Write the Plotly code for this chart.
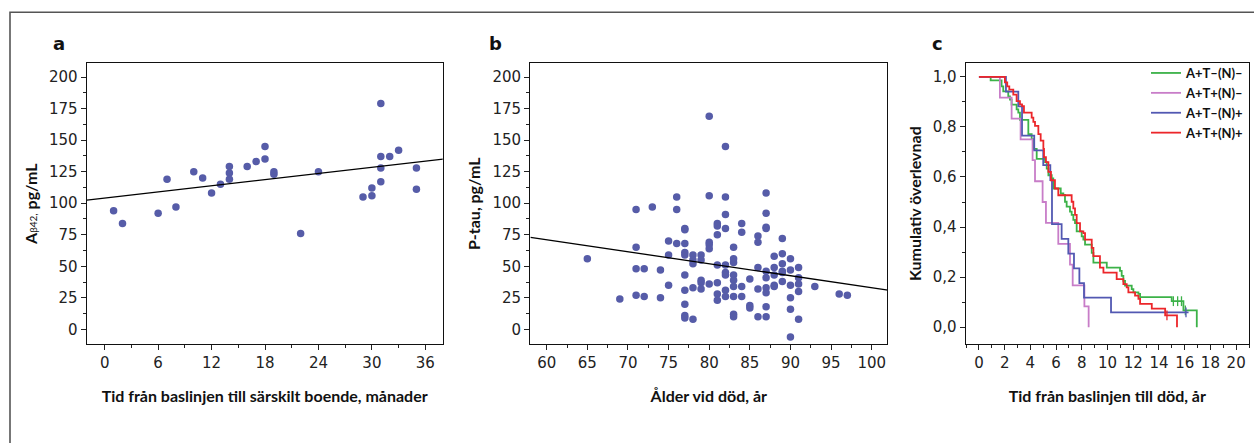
import plotly.graph_objects as go

# ---------------- Panel a data ----------------
a_months = [1, 2, 6, 7, 8, 10, 11, 12, 13, 14, 14, 14, 16, 17, 18, 18, 19, 19,
            22, 24, 29, 30, 30, 31, 31, 31, 31, 32, 33, 35, 35]
a_abeta = [94, 84, 92, 119, 97, 125, 120, 108, 115, 129, 124, 119, 129, 133, 145, 135, 125, 123,
           76, 125, 105, 112, 106, 179, 137, 128, 117, 137, 142, 128, 111]
a_fit_intercept = 104.1
a_fit_slope = 0.813

# ---------------- Panel b data ----------------
b_age = [65, 69, 71, 71, 71, 71, 72, 72, 73, 74, 74, 75, 75, 75, 76, 76, 76,
         77, 77, 77, 77, 77, 77, 77, 77, 77, 77, 78, 78, 78, 78, 78,
         79, 79, 79, 79, 79, 80, 80, 80, 80, 80, 80,
         81, 81, 81, 81, 81, 81, 81, 82, 82, 82, 82, 82, 82, 82, 82, 82,
         83, 83, 83, 83, 83, 83, 83, 83, 83, 84, 84, 84, 84, 85, 85, 85,
         86, 86, 86, 86, 86, 87, 87, 87, 87, 87, 87, 87, 87, 87, 87,
         88, 88, 88, 88, 88, 89, 89, 89, 89, 89, 89, 90, 90, 90, 90, 90, 90,
         91, 91, 91, 91, 91, 93, 96, 97]
b_ptau = [56, 24, 95, 65, 48, 27, 48, 26, 97, 47, 25, 70, 59, 35, 105, 95, 68,
          80, 79, 68, 61, 59, 43, 31, 20, 11, 9, 8, 59, 55, 52, 33,
          59, 55, 39, 37, 32, 169, 106, 69, 67, 64, 36,
          84, 82, 75, 51, 37, 28, 23, 145, 105, 91, 80, 51, 45, 43, 31, 26,
          65, 56, 53, 43, 39, 34, 26, 12, 10, 84, 77, 34, 26, 40, 19, 17,
          74, 69, 49, 32, 10, 108, 92, 81, 80, 46, 41, 33, 29, 18, 10,
          58, 49, 43, 35, 34, 72, 60, 52, 46, 45, 38, 56, 47, 35, 25, 16, -6,
          49, 41, 36, 30, 8, 34, 28, 27]
b_fit_intercept_at60 = 71.0
b_fit_slope = -0.949

# ---------------- Panel c data (Kaplan-Meier steps) ----------------
groups = ["A+T–(N)–", "A+T+(N)–", "A+T–(N)+", "A+T+(N)+"]

km_green_t = [0, 0.91, 1.76, 1.89, 2.28, 2.41, 2.54, 2.93, 3.06, 3.19, 3.84, 4.10, 4.23, 4.49,
              5.14, 5.27, 5.40, 5.66, 5.78, 6.36, 6.56, 6.69, 6.82, 7.08, 7.21, 7.34, 7.47, 7.60,
              7.99, 8.12, 8.25, 8.77, 8.90, 9.94, 10.97, 11.10, 11.23, 11.36, 11.88, 12.01,
              12.40, 12.53, 14.99, 15.90, 16.94]
km_green_s = [1, 0.986, 0.962, 0.942, 0.922, 0.909, 0.889, 0.870, 0.857, 0.828, 0.771, 0.751, 0.712, 0.672,
              0.659, 0.633, 0.607, 0.594, 0.554, 0.534, 0.528, 0.501, 0.482, 0.462, 0.449, 0.429, 0.416, 0.383,
              0.363, 0.350, 0.330, 0.297, 0.258, 0.238, 0.225, 0.205, 0.185, 0.166, 0.152, 0.139,
              0.133, 0.120, 0.104, 0.067, 0.0]
km_green_cens_t = [15.12, 15.45, 15.75, 16.05]
km_green_cens_s = [0.104, 0.104, 0.104, 0.067]

km_pink_t = [0, 1.63, 2.54, 3.24, 4.17, 4.36, 4.95, 5.21, 6.17, 7.08, 7.29, 8.20, 8.53]
km_pink_s = [1, 0.917, 0.833, 0.750, 0.667, 0.583, 0.500, 0.417, 0.333, 0.250, 0.167, 0.083, 0.0]

km_blue_t = [0, 2.10, 3.06, 3.35, 4.30, 5.00, 5.55, 5.68, 6.43, 6.95, 7.39, 7.81, 8.17, 10.27, 16.30]
km_blue_s = [1, 0.941, 0.882, 0.765, 0.706, 0.647, 0.588, 0.412, 0.353, 0.294, 0.235, 0.176, 0.118, 0.059, 0.059]
km_blue_cens_t = [16.1]
km_blue_cens_s = [0.059]

km_red_t = [0, 2.02, 2.20, 2.36, 2.67, 2.93, 3.19, 3.35, 3.50, 4.10, 4.23, 4.36, 4.62, 4.80, 5.01,
            5.06, 5.21, 5.40, 5.60, 5.91, 6.17, 7.21, 7.34, 7.47, 7.60, 7.86, 8.12, 8.25, 8.77,
            8.90, 9.41, 9.68, 10.71, 11.23, 11.49, 11.62, 12.14, 12.40, 12.53, 13.44, 14.48, 15.40]
km_red_s = [1, 0.978, 0.962, 0.949, 0.929, 0.903, 0.890, 0.883, 0.857, 0.837, 0.820, 0.804, 0.771, 0.745, 0.712,
            0.679, 0.659, 0.620, 0.587, 0.554, 0.527, 0.501, 0.475, 0.449, 0.416, 0.383, 0.376, 0.350, 0.317,
            0.284, 0.238, 0.218, 0.192, 0.172, 0.159, 0.139, 0.126, 0.113, 0.093, 0.074, 0.047, 0.0]
km_red_cens_t = [14.62]
km_red_cens_s = [0.047]

# ---------------- styling ----------------
W, H = 1254, 443
DOT = "rgb(86,92,168)"
GREEN = "rgb(60,178,72)"
PINK = "rgb(200,125,200)"
BLUE = "rgb(82,88,178)"
RED = "rgb(236,38,42)"
TICKFONT = dict(family="DejaVu Sans", size=15, color="#222")
TITLEFONT = dict(family="Lato", size=16, color="#111")


def px_x(p):
    return p / W


def px_y(p):
    return 1 - p / H


fig = go.Figure()

# Panel a
fig.add_trace(go.Scatter(x=a_months, y=a_abeta, mode="markers", xaxis="x", yaxis="y",
                         marker=dict(color=DOT, size=7.5), showlegend=False))
fa_x = [-2, 38]
fig.add_trace(go.Scatter(x=fa_x, y=[a_fit_intercept + a_fit_slope * v for v in fa_x], mode="lines",
                         xaxis="x", yaxis="y", line=dict(color="black", width=1.3), showlegend=False))

# Panel b
fb_x = [58, 102]
fig.add_trace(go.Scatter(x=b_age, y=b_ptau, mode="markers", xaxis="x2", yaxis="y2",
                         marker=dict(color=DOT, size=7.5), showlegend=False))
fig.add_trace(go.Scatter(x=fb_x, y=[b_fit_intercept_at60 + b_fit_slope * (v - 60) for v in fb_x],
                         mode="lines", xaxis="x2", yaxis="y2",
                         line=dict(color="black", width=1.3), showlegend=False))

# Panel c
curves = [
    (km_green_t, km_green_s, GREEN, groups[0], km_green_cens_t, km_green_cens_s),
    (km_pink_t, km_pink_s, PINK, groups[1], [], []),
    (km_blue_t, km_blue_s, BLUE, groups[2], km_blue_cens_t, km_blue_cens_s),
    (km_red_t, km_red_s, RED, groups[3], km_red_cens_t, km_red_cens_s),
]
for t, s, col, name, ct, cs in curves:
    fig.add_trace(go.Scatter(x=t, y=s, mode="lines", line=dict(color=col, width=1.8, shape="hv"),
                             name=f"<b>{name}</b>", xaxis="x3", yaxis="y3"))
    if ct:
        fig.add_trace(go.Scatter(x=ct, y=cs, mode="markers", xaxis="x3", yaxis="y3", showlegend=False,
                                 marker=dict(symbol="line-ns", size=7, line=dict(color=col, width=1.3))))


def xax(domain, rng, dtick, mdtick, title, anchor, standoff=19):
    return dict(domain=domain, range=rng, anchor=anchor, automargin=False, showline=True, mirror=True,
                linecolor="#111", linewidth=1.3, showgrid=False, zeroline=False, ticks="outside",
                ticklen=5, tickwidth=1, tickcolor="#222", dtick=dtick, tick0=0, tickfont=TICKFONT,
                minor=dict(dtick=mdtick, tick0=0, ticks="outside", ticklen=3, tickcolor="#222", showgrid=False),
                title=dict(text=f"<b>{title}</b>", font=TITLEFONT, standoff=standoff))


def yax(domain, rng, dtick, mdtick, title, anchor, standoff=7, fmt=None):
    d = dict(domain=domain, range=rng, anchor=anchor, automargin=False, showline=True, mirror=True,
             linecolor="#111", linewidth=1.3, showgrid=False, zeroline=False, ticks="outside",
             ticklen=5, tickwidth=1, tickcolor="#222", dtick=dtick, tick0=0, tickfont=TICKFONT,
             minor=dict(dtick=mdtick, tick0=0, ticks="outside", ticklen=3, tickcolor="#222", showgrid=False),
             title=dict(text=title, font=TITLEFONT, standoff=standoff))
    if fmt:
        d["tickformat"] = fmt
    return d


ydom = [px_y(344), px_y(63.3)]

xa = xax([px_x(86.7), px_x(442.7)], [-2.02, 37.95], 6, 3,
         "Tid från baslinjen till särskilt boende, månader", "y")
xb = xax([px_x(530.3), px_x(887.3)], [57.98, 101.92], 5, 2.5, "Ålder vid död, år", "y2")
xc = xax([px_x(965.7), px_x(1249)], [-1.03, 21.0], 2, 1, "Tid från baslinjen till död, år", "y3")

ya = yax(ydom, [-11.6, 210.9], 25, 12.5,
         "<b>A</b><span style='font-size:10px'>β42,</span><b> pg/mL</b>", "x")
yb = yax(ydom, [-11.6, 210.9], 25, 12.5, "<b>P-tau, pg/mL</b>", "x2")
yc = yax(ydom, [-0.067, 1.054], 0.2, 0.1, "<b>Kumulativ överlevnad</b>", "x3", fmt=".1f")

fig.update_layout(
    width=W, height=H, margin=dict(l=0, r=0, t=0, b=0, autoexpand=False),
    paper_bgcolor="white", plot_bgcolor="white", separators=", ",
    xaxis=xa, yaxis=ya, xaxis2=xb, yaxis2=yb, xaxis3=xc, yaxis3=yc,
    showlegend=True,
    legend=dict(x=px_x(1249), xanchor="right", y=px_y(58), yanchor="top",
                bgcolor="rgba(0,0,0,0)", font=dict(family="Lato", size=13, color="#111"),
                tracegroupgap=0, itemwidth=30),
)

for txt, xp in [("a", 59), ("b", 495), ("c", 937)]:
    fig.add_annotation(text=f"<b>{txt}</b>", x=px_x(xp), y=px_y(43), xref="paper", yref="paper",
                       xanchor="center", yanchor="middle",
                       showarrow=False, font=dict(family="DejaVu Sans", size=18, color="#111"))

# outer frame
fig.add_shape(type="rect", xref="paper", yref="paper", x0=px_x(10), y0=-0.05, x1=1.05, y1=px_y(12.3),
              line=dict(color="#555", width=1.6), fillcolor="rgba(0,0,0,0)", layer="below")

fig.write_html("out.html", config={"displayModeBar": False},
               post_script="document.body.style.margin='0';")
